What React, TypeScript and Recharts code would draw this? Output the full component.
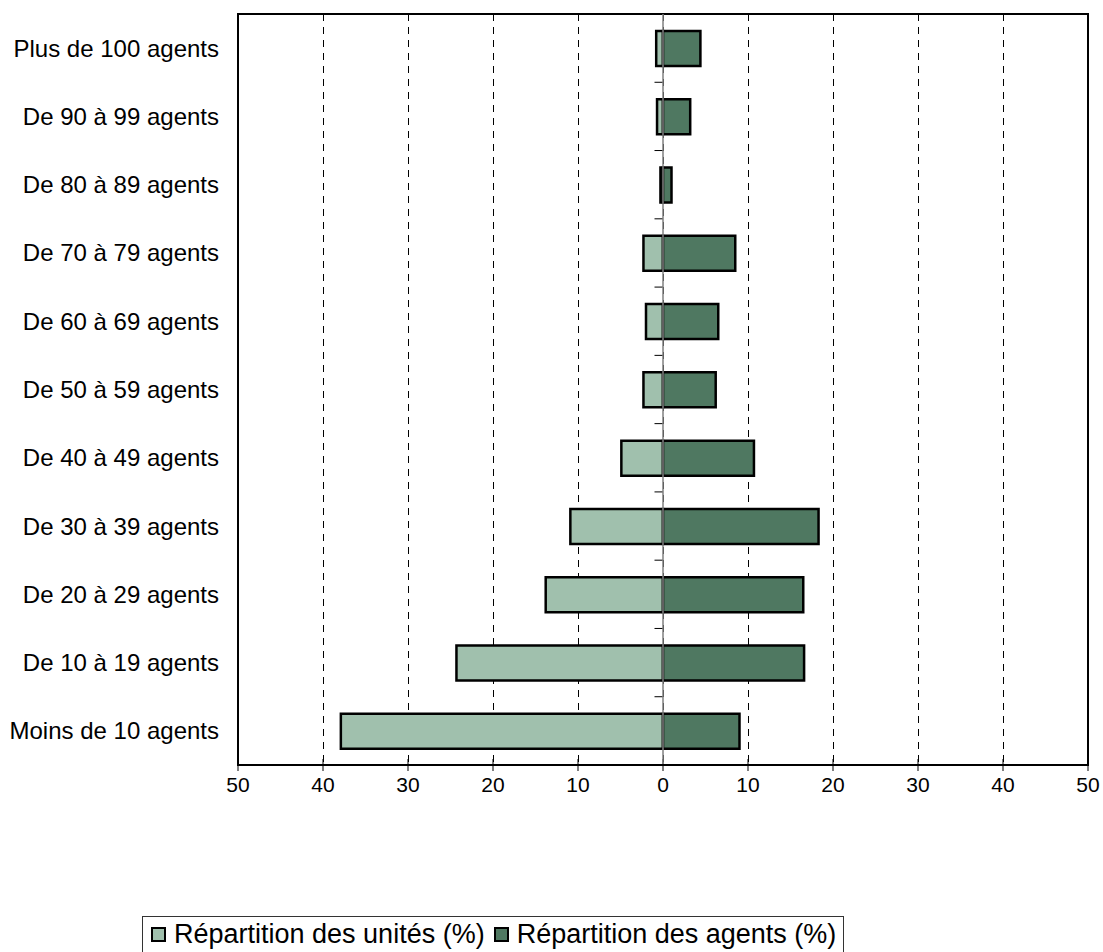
import {
  BarChart,
  Bar,
  XAxis,
  YAxis,
  CartesianGrid,
  ReferenceLine,
  ReferenceArea,
  Legend,
} from "recharts";

const categories = [
  "Plus de 100 agents",
  "De 90 à 99 agents",
  "De 80 à 89 agents",
  "De 70 à 79 agents",
  "De 60 à 69 agents",
  "De 50 à 59 agents",
  "De 40 à 49 agents",
  "De 30 à 39 agents",
  "De 20 à 29 agents",
  "De 10 à 19 agents",
  "Moins de 10 agents",
];

// répartition des unités (%), dessinée vers la gauche
const unitsPct = [0.8, 0.7, 0.3, 2.3, 2.0, 2.3, 4.9, 10.9, 13.8, 24.3, 37.9];
// répartition des agents (%), vers la droite
const agentsPct = [4.4, 3.2, 1.0, 8.5, 6.5, 6.2, 10.7, 18.3, 16.5, 16.6, 9.0];

const xTicks = [-50, -40, -30, -20, -10, 0, 10, 20, 30, 40, 50];
const innerTicks = [-40, -30, -20, -10, 0, 10, 20, 30, 40];

const LIGHT = "#A0C0AD";
const DARK = "#4F7861";
const FONT = "'Liberation Sans', Arial, sans-serif";

const data = categories.map((c, i) => ({
  cat: c,
  units: -unitsPct[i],
  agents: agentsPct[i],
}));

// petit trait sur l'axe vertical (en 0), en haut de la bande
function BandTopTick(p: any) {
  return (
    <line x1={p.x} x2={p.x + p.width} y1={p.y} y2={p.y} stroke="#000" strokeWidth={1} />
  );
}

// graduation intérieure de l'axe horizontal, au bas de la bande du bas
function InnerTick(p: any) {
  const yb = p.y + p.height;
  return <line x1={p.x} x2={p.x} y1={yb - 6} y2={yb} stroke="#000" strokeWidth={1} />;
}

function LegendBox() {
  const item = (color: string, label: string, ml: number) => (
    <div style={{ display: "flex", alignItems: "center", marginLeft: ml }}>
      <span
        style={{
          display: "inline-block",
          boxSizing: "border-box",
          width: 15,
          height: 15,
          background: color,
          border: "2px solid #000",
          marginRight: 8,
        }}
      />
      <span>{label}</span>
    </div>
  );
  return (
    <div
      style={{
        display: "flex",
        border: "1px solid #333",
        padding: "2px 7px 6px 8px",
        fontFamily: FONT,
        fontSize: 27,
        color: "#000",
        background: "#fff",
        lineHeight: "31px",
        whiteSpace: "nowrap",
      }}
    >
      {item(LIGHT, "Répartition des unités (%)", 0)}
      {item(DARK, "Répartition des agents (%)", 9)}
    </div>
  );
}

export default function App() {
  return (
    <div
      style={{
        position: "fixed",
        left: 0,
        top: 0,
        width: 1103,
        height: 952,
        overflow: "hidden",
        background: "#fff",
      }}
    >
      <BarChart
        width={1103}
        height={952}
        data={data}
        layout="vertical"
        stackOffset="sign"
        barSize={35}
        margin={{ top: 14, right: 15, left: 0, bottom: 147 }}
      >
        <CartesianGrid
          horizontal={false}
          stroke="#000"
          strokeDasharray="7 6"
          strokeWidth={1}
          shapeRendering="crispEdges"
        />
        <XAxis
          type="number"
          domain={[-50, 50]}
          ticks={xTicks}
          allowDataOverflow
          tickFormatter={(v) => String(Math.abs(Number(v)))}
          height={40}
          tickSize={6}
          tickMargin={6}
          axisLine={{ stroke: "#000", strokeWidth: 2 }}
          tickLine={{ stroke: "#000", strokeWidth: 1 }}
          tick={{ fill: "#000", fontSize: 21, fontFamily: FONT }}
        />
        <YAxis
          type="category"
          dataKey="cat"
          width={238}
          axisLine={false}
          tickLine={false}
          tickSize={0}
          tickMargin={19}
          interval={0}
          tick={{ fill: "#000", fontSize: 24, fontFamily: FONT }}
        />
        <ReferenceLine x={0} stroke="#808080" strokeWidth={1.5} />
        <Bar
          dataKey="units"
          stackId="a"
          fill={LIGHT}
          stroke="#000"
          strokeWidth={2.5}
          isAnimationActive={false}
        />
        <Bar
          dataKey="agents"
          stackId="a"
          fill={DARK}
          stroke="#000"
          strokeWidth={2.5}
          isAnimationActive={false}
        />
        {categories.slice(1).map((c) => (
          <ReferenceArea
            key={"b" + c}
            x1={-1}
            x2={0}
            y1={c}
            y2={c}
            shape={(p: any) => <BandTopTick {...p} />}
          />
        ))}
        {innerTicks.map((t) => (
          <ReferenceArea
            key={"t" + t}
            x1={t}
            x2={t}
            y1={categories[categories.length - 1]}
            y2={categories[categories.length - 1]}
            shape={(p: any) => <InnerTick {...p} />}
          />
        ))}
        <ReferenceArea
          x1={-50}
          x2={50}
          fill="none"
          fillOpacity={0}
          stroke="#000"
          strokeWidth={2}
          ifOverflow="visible"
        />
        <Legend
          layout="horizontal"
          verticalAlign="middle"
          align="center"
          wrapperStyle={{ left: 142, top: 916, width: "auto" }}
          content={() => <LegendBox />}
        />
      </BarChart>
    </div>
  );
}
